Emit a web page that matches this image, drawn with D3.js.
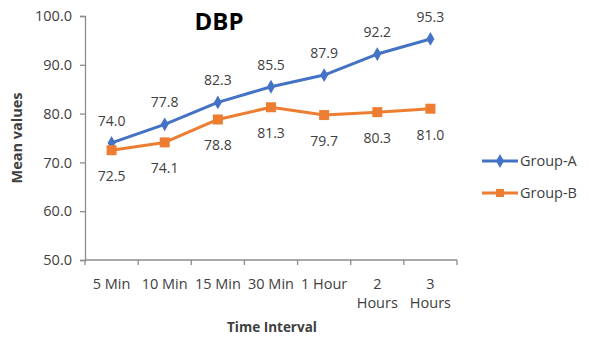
<!DOCTYPE html>
<html>
<head>
<meta charset="utf-8">
<script src="https://cdn.jsdelivr.net/npm/d3@7"></script>
<style>
  body { margin: 0; background: #fff; }
  svg text { font-family: "Open Sans", "Liberation Sans", sans-serif; fill: #404040; }
</style>
</head>
<body>
<svg id="chart" width="589" height="337"></svg>
<script>
// Diastolic blood pressure by time interval
const categories = ["5 Min", "10 Min", "15 Min", "30 Min", "1 Hour", "2 Hours", "3 Hours"];
const categoryLines = [["5 Min"], ["10 Min"], ["15 Min"], ["30 Min"], ["1 Hour"], ["2", "Hours"], ["3", "Hours"]];
const groupA = [74.0, 77.8, 82.3, 85.5, 87.9, 92.2, 95.3];
const groupB = [72.5, 74.1, 78.8, 81.3, 79.7, 80.3, 81.0];
const yTicks = [50, 60, 70, 80, 90, 100];
const seriesNames = ["Group-A", "Group-B"];

const svg = d3.select("#chart");
const plotLeft = 85, plotRight = 457, plotTop = 16, plotBottom = 260;

const x = d3.scaleBand().domain(categories).range([plotLeft, plotRight]);
const y = d3.scaleLinear().domain([50, 100]).range([plotBottom, plotTop]);

const axisColor = "#8c8c8c";

// Y axis
const yAxis = svg.append("g").attr("transform", `translate(${plotLeft},0)`)
  .call(d3.axisLeft(y).tickValues(yTicks).tickFormat(d3.format(".1f")).tickSize(5).tickPadding(8));
yAxis.select(".domain").attr("stroke", axisColor).attr("stroke-width", 1.3);
yAxis.selectAll(".tick line").attr("stroke", axisColor).attr("stroke-width", 1.3);
yAxis.selectAll(".tick text").style("font-size", "14.5px").attr("fill", "#404040");

// X axis: ticks at band edges
const xAxis = svg.append("g").attr("transform", `translate(0,${plotBottom})`);
xAxis.append("line").attr("x1", plotLeft).attr("x2", plotRight).attr("y1", 0).attr("y2", 0)
  .attr("stroke", axisColor).attr("stroke-width", 1.3);
const edges = categories.map(c => x(c)).concat([plotRight]);
xAxis.selectAll("line.tk").data(edges).enter().append("line").attr("class", "tk")
  .attr("x1", d => d).attr("x2", d => d).attr("y1", 0).attr("y2", 5)
  .attr("stroke", axisColor).attr("stroke-width", 1.3);
const xl = xAxis.selectAll("text.cat").data(categories).enter().append("text").attr("class", "cat")
  .attr("x", d => x(d) + x.bandwidth() / 2).attr("y", 29)
  .attr("text-anchor", "middle").style("font-size", "14.5px");
xl.each(function(d, i) {
  const t = d3.select(this);
  categoryLines[i].forEach((ln, j) => {
    t.append("tspan").attr("x", x(d) + x.bandwidth() / 2).attr("dy", j === 0 ? 0 : 19).text(ln);
  });
});

// Axis titles
svg.append("text").attr("x", 272).attr("y", 332).attr("text-anchor", "middle")
  .style("font-size", "13.5px").style("font-weight", "bold").text("Time Interval");
svg.append("text").attr("transform", "translate(22,138) rotate(-90)").attr("text-anchor", "middle")
  .style("font-size", "14.5px").style("font-weight", "bold").text("Mean values");

// Title
svg.append("text").attr("x", 219).attr("y", 30).attr("text-anchor", "middle")
  .style("font-size", "24px").style("font-weight", "bold").style("fill", "#000").text("DBP");

const colors = ["#4472C4", "#ED7D31"];
const cx = c => x(c) + x.bandwidth() / 2;
const line = d3.line().x((d, i) => cx(categories[i])).y(d => y(d));

[groupA, groupB].forEach((vals, s) => {
  svg.append("path").datum(vals).attr("d", line)
    .attr("fill", "none").attr("stroke", colors[s]).attr("stroke-width", 3).attr("stroke-linejoin", "round");
  const marker = s === 0 ? d3.symbol().type(d3.symbolDiamond).size(55) : d3.symbol().type(d3.symbolSquare).size(100);
  svg.selectAll(null).data(vals).enter().append("path")
    .attr("d", marker)
    .attr("transform", (d, i) => `translate(${cx(categories[i])},${y(d)})`)
    .attr("fill", colors[s]);
  svg.selectAll(null).data(vals).enter().append("text")
    .attr("x", (d, i) => cx(categories[i]))
    .attr("y", d => s === 0 ? y(d) - 17 : y(d) + 31)
    .attr("text-anchor", "middle").style("font-size", "14px")
    .text(d => d.toFixed(1));
});

// Legend
seriesNames.forEach((name, s) => {
  const ly = 161 + s * 32;
  const g = svg.append("g");
  g.append("line").attr("x1", 482).attr("x2", 518).attr("y1", ly).attr("y2", ly)
    .attr("stroke", colors[s]).attr("stroke-width", 3);
  g.append("path")
    .attr("d", s === 0 ? d3.symbol().type(d3.symbolDiamond).size(55)() : d3.symbol().type(d3.symbolSquare).size(64)())
    .attr("transform", `translate(500,${ly})`).attr("fill", colors[s]);
  g.append("text").attr("x", 520).attr("y", ly + 5).style("font-size", "14.5px").text(name);
});
</script>
</body>
</html>
